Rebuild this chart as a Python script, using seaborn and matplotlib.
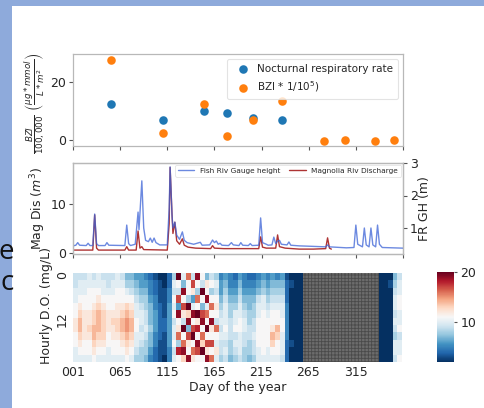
import numpy as np
import pandas as pd
import matplotlib
matplotlib.use("Agg")
import matplotlib.pyplot as plt
from matplotlib.patches import Rectangle
import seaborn as sns

# ---------------- data ----------------
# panel 1: sampling days and values
RESP_DAY = [40, 95, 139, 163, 191, 222]
RESP_RATE = [12.3, 7.1, 10.0, 9.2, 7.6, 6.8]
BZI_DAY = [40, 95, 139, 163, 191, 222, 266, 288, 320, 340]
BZI_SCALED = [27.6, 2.3, 12.4, 1.4, 6.8, 13.4, -0.2, 0.2, -0.2, 0.0]

# panel 2: Fish River gauge height (m)
GH_DAY = [0, 3, 5, 7, 14, 16, 18, 21, 23, 25, 27, 34, 36, 38, 55, 57, 59, 61,
          66, 69, 70, 73, 75, 77, 80, 82, 84, 86, 88, 92, 100, 102, 103, 105,
          106, 108, 110, 113, 116, 118, 121, 128, 135, 137, 145, 148, 150, 152,
          154, 156, 158, 165, 168, 170, 176, 178, 180, 186, 188, 190, 197, 199,
          201, 205, 207, 211, 213, 215, 217, 219, 221, 227, 229, 231, 240, 250,
          268, 270, 272, 290, 298, 300, 302, 307, 309, 311, 314, 316, 318, 321,
          323, 325, 328, 350]
GH_M = [0.45, 0.47, 0.55, 0.47, 0.46, 0.53, 0.46, 0.46, 1.43, 0.52, 0.46, 0.46,
        0.55, 0.47, 0.46, 1.09, 0.52, 0.46, 0.50, 1.49, 0.95, 2.45, 1.00, 0.62,
        0.58, 0.69, 0.56, 0.69, 0.55, 0.48, 0.48, 1.60, 2.88, 1.40, 1.00, 1.18,
        0.78, 0.65, 0.88, 0.62, 0.55, 0.50, 0.56, 0.47, 0.48, 0.63, 0.55, 0.60,
        0.50, 0.53, 0.47, 0.46, 0.55, 0.48, 0.46, 0.55, 0.47, 0.46, 0.52, 0.46,
        0.47, 1.31, 0.55, 0.50, 0.47, 0.48, 0.72, 0.52, 0.60, 0.62, 0.50, 0.48,
        0.57, 0.47, 0.45, 0.44, 0.42, 0.48, 0.42, 0.39, 0.40, 1.09, 0.50, 0.42,
        1.00, 0.48, 0.42, 1.00, 0.48, 0.42, 1.09, 0.50, 0.40, 0.38]

# panel 2: Magnolia River discharge (m^3)
MD_DAY = [0, 21, 23, 25, 27, 55, 57, 59, 67, 69, 71, 73, 75, 100, 102, 103, 105,
          106, 108, 110, 113, 116, 118, 122, 130, 146, 148, 150, 160, 197, 199,
          201, 205, 215, 217, 219, 225, 240, 255, 268, 270, 272, 274]
MD_VAL = [0.6, 0.6, 7.8, 1.0, 0.6, 0.6, 1.3, 0.6, 0.6, 4.5, 1.0, 1.3, 0.7, 0.6,
          6.0, 17.5, 8.0, 4.0, 6.3, 2.5, 1.8, 2.9, 1.6, 1.2, 1.0, 0.9, 1.5, 1.0,
          0.9, 0.9, 3.3, 1.2, 1.0, 1.0, 3.7, 1.3, 1.0, 0.8, 0.8, 0.9, 3.1, 1.0, 0.8]

# panel 3: hourly dissolved oxygen (mg/L); one string per 5-day block,
# each char = one 2-hour block (base-36 digit: 'a'=10 ... 'k'=20, '.'=missing)
DO_BLOCKS = [
    "99aabbccbbaa", "9aabcdeedcba", "9aabbccccbba", "aabbbccdcbba",
    "9abbcddeedcb", "aabcdeeedcba", "9aabcddddcba", "99abbcccbbaa",
    "9aabbcdccbba", "aabbccddcbba", "9abbcdeedcba", "78abdeffedcb",
    "789bcdeedcba", "6789aabbaa98", "66789aa9a988", "5678899a9887",
    "455677787765", "344556665544", "233344444333", "223333443332",
    "445566666655", "8a9bab9aab9a", "kb9h6jbcg8ib", "a7jbhc9kbgjd",
    "gbb8kdj7hcbj", "9hc6ajbhkbgc", "jb8gbkcibjhb", "b9kb7hjbgdkb",
    "7cbjagbkbhcj", "9b8bgbjcbhbg", "8a9bcb9gbaca", "566789a9a998",
    "6789aaaba9a9", "556788999887", "45678aab9a98", "6789aabbaaa9",
    "556789aa9988", "456778899887", "45678899a998", "5679aabbbbaa",
    "678aabbbbbba", "56789abbbbaa", "6789abbcedba", "5789abbedbba",
    "6789aabbaaa9", "344455555444", "232222222322", "222222222222",
    "222222222222", "............", "............", "............",
    "............", "............", "............", "............",
    "............", "............", "............", "............",
    "............", "............", "............", "............",
    "............", "222222222222", "222222222222", "232222222222",
    "789aa9a98aa9", "9aabbaab9aab",
]
DAY_TICK_LABELS = ["001", "065", "115", "165", "215", "265", "315"]
HOUR_TICK_LABELS = ["0", "12"]

# ---------------- style ----------------
sns.set_theme(style="white")
plt.rcParams["font.family"] = ["DejaVu Sans"]
plt.rcParams["hatch.color"] = "#4a4a4a"
plt.rcParams["hatch.linewidth"] = 0.6
TXT = "#262626"
SPINE = "#b8b8b8"

W, H = 485, 408
fig = plt.figure(figsize=(W / 100, H / 100), dpi=100)
fig.patch.set_facecolor("#8eaadb")
fig.add_artist(Rectangle((12 / W, 0), 1 - 12 / W, 1 - 6 / H, transform=fig.transFigure,
                         facecolor="white", edgecolor="none", zorder=-10))
fig.text(14 / W, 1 - 252 / H, "e", ha="right", va="center", fontsize=20,
         family="Open Sans", color="#111111")
fig.text(14 / W, 1 - 283 / H, "c", ha="right", va="center", fontsize=20,
         family="Open Sans", color="#111111")


def style_axes(ax):
    for s in ax.spines.values():
        s.set_color(SPINE)
        s.set_linewidth(0.9)
    ax.tick_params(axis="both", which="both", labelsize=9, colors=TXT,
                   length=3, width=0.8, bottom=True, left=True, pad=2)
    ax.tick_params(axis="both", color="#555555")


# ---------- panel 1 ----------
ax1 = fig.add_axes([73 / W, 1 - 146 / H, 330 / W, 92 / H])
sns.scatterplot(x=RESP_DAY, y=RESP_RATE, ax=ax1, color="#1f77b4", s=38,
                linewidth=0, label="Nocturnal respiratory rate")
sns.scatterplot(x=BZI_DAY, y=BZI_SCALED, ax=ax1, color="#ff7f0e", s=38,
                linewidth=0, label=r"BZI * 1/10$^5$)")
ax1.set_xlim(0, 350)
ax1.set_ylim(-2.0, 29.6)
ax1.set_xticks(np.arange(0, 351, 50))
ax1.set_xticklabels([])
ax1.set_yticks([0, 20])
style_axes(ax1)
ax1.set_ylabel(r"$\frac{BZI}{100,000}$ $\left(\frac{\mu g*mmol}{L*m^2}\right)$",
               fontsize=9, color=TXT)
ax1.yaxis.set_label_coords(-0.08, 0.47)
leg1 = ax1.legend(loc="upper right", fontsize=7.5, frameon=True, borderaxespad=0.45,
                  handletextpad=0.4, borderpad=0.5, labelspacing=0.5, markerscale=1.0)
leg1.get_frame().set_edgecolor("#dddddd")
leg1.get_frame().set_linewidth(0.8)
for t in leg1.get_texts():
    t.set_color(TXT)

# ---------- panel 2 ----------
ax2 = fig.add_axes([73 / W, 1 - 254 / H, 330 / W, 91 / H])
sns.lineplot(x=MD_DAY, y=MD_VAL, ax=ax2, color="#a01010", lw=1.0, alpha=0.85,
             legend=False)
ax2.set_xlim(0, 350)
ax2.set_ylim(-0.2, 18.4)
ax2.set_xticks(np.arange(0, 351, 50))
ax2.set_xticklabels([])
ax2.set_yticks([0, 10])
style_axes(ax2)
ax2.set_ylabel(r"Mag Dis ($m^3$)", fontsize=9, color=TXT)
ax2.yaxis.set_label_coords(-0.076, 0.5)

ax2r = ax2.twinx()
sns.lineplot(x=GH_DAY, y=GH_M, ax=ax2r, color="#3b62d6", lw=1.0, alpha=0.75,
             legend=False)
ax2r.set_xlim(0, 350)
ax2r.set_ylim(0.2, 3.0)
ax2r.set_yticks([1, 2, 3])
style_axes(ax2r)
ax2r.tick_params(axis="y", right=True, left=False)
ax2r.set_ylabel("FR GH (m)", fontsize=9, color=TXT)
ax2r.yaxis.set_label_coords(1.046, 0.5)
h_gh = ax2r.get_lines()[0]
h_md = ax2.get_lines()[0]
leg2 = ax2r.legend([h_gh, h_md], ["Fish Riv Gauge height", "Magnolia Riv Discharge"],
                   loc="upper right", ncol=2, fontsize=5.3, borderaxespad=0.25,
                   handlelength=2.2, columnspacing=1.2, frameon=True)
leg2.get_frame().set_edgecolor("#dddddd")
leg2.get_frame().set_linewidth(0.6)
for t in leg2.get_texts():
    t.set_color(TXT)

# ---------- panel 3 ----------
blocks = np.array([[np.nan if c == "." else int(c, 36) for c in col] for col in DO_BLOCKS]).T
do_grid = np.repeat(np.repeat(blocks, 2, axis=0), 5, axis=1)
do_df = pd.DataFrame(do_grid)

ax3 = fig.add_axes([73 / W, 1 - 362 / H, 329 / W, 89 / H])
cax = fig.add_axes([437 / W, 1 - 362 / H, 17 / W, 90 / H])
ax3.add_patch(Rectangle((0, 0), 1, 1, transform=ax3.transAxes, facecolor="#6c6c6c",
                        edgecolor="#4a4a4a", hatch="+++++", lw=0, zorder=0))
sns.heatmap(do_df, ax=ax3, cbar_ax=cax, cmap="RdBu_r", vmin=2, vmax=20,
            xticklabels=False, yticklabels=False, cbar_kws={"ticks": [10, 20]})
ax3.set_xticks(np.arange(0, 301, 50) + 0.5)
ax3.set_xticklabels(DAY_TICK_LABELS, rotation=0)
ax3.set_yticks([0.5, 12.5])
ax3.set_yticklabels(HOUR_TICK_LABELS, rotation=90, va="center")
ax3.tick_params(axis="both", labelsize=9, colors=TXT, length=0, pad=3)
ax3.set_xlabel("Day of the year", fontsize=9, color=TXT, labelpad=1)
ax3.set_ylabel("Hourly D.O. (mg/L)", fontsize=9, color=TXT)
ax3.yaxis.set_label_coords(-0.062, 0.64)
cax.tick_params(labelsize=9, colors=TXT, length=2.5, width=0.8, pad=2)
cax.tick_params(axis="y", color="#555555")

fig.savefig("out.png", dpi=100, facecolor=fig.get_facecolor())
